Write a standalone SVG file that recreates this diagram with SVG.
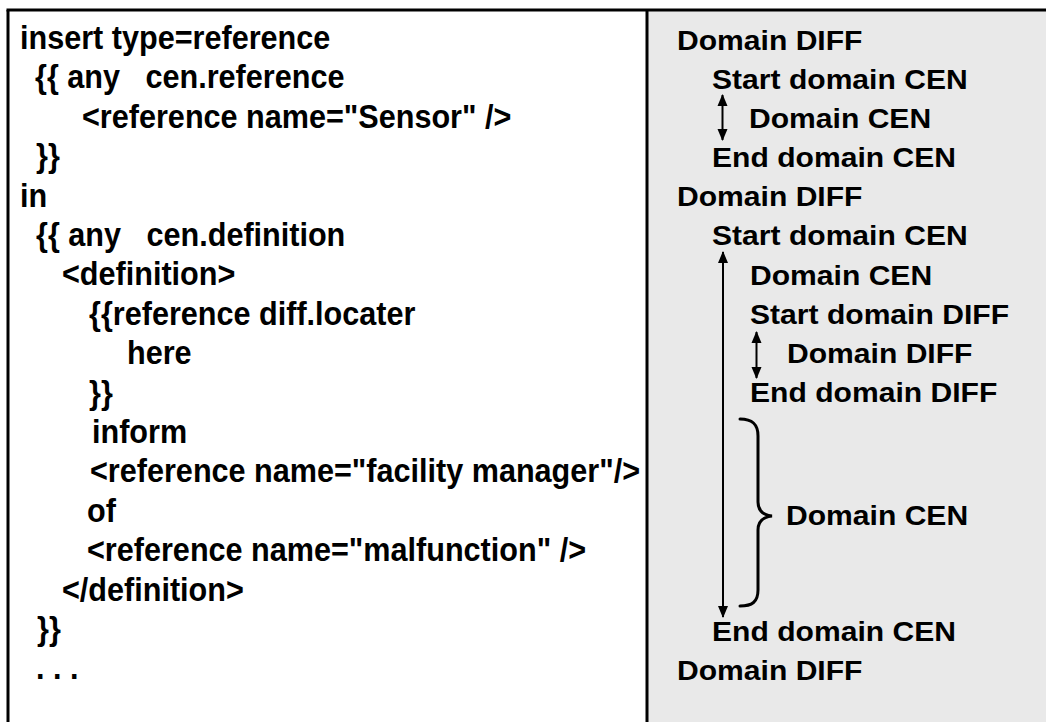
<svg xmlns="http://www.w3.org/2000/svg" width="1046" height="722" viewBox="0 0 1046 722">
  <style>
    .code { font-family: "Liberation Sans", Arial, sans-serif; font-weight: bold; font-size: 34px; fill: #000; white-space: pre; }
    .dom { font-family: "Liberation Sans", Arial, sans-serif; font-weight: bold; font-size: 28px; fill: #000; white-space: pre; }
    .frame { stroke: #000; stroke-width: 3; fill: none; }
    .conn { stroke: #000; stroke-width: 2; fill: none; }
    .brace { stroke: #000; stroke-width: 3; fill: none; stroke-linecap: round; }
  </style>
  <defs>
    <marker id="head" markerUnits="userSpaceOnUse" markerWidth="12" markerHeight="16" refX="11" refY="6" viewBox="0 0 12 12" orient="auto-start-reverse">
      <path d="M0,1 L12,6 L0,11 z" fill="#000"/>
    </marker>
  </defs>

  <!-- background and panels -->
  <rect x="0" y="0" width="1046" height="722" fill="#fff"/>
  <rect id="domain-panel" x="647" y="10" width="399" height="712" fill="#e9e9e9"/>
  <g id="frame">
    <line class="frame" x1="6.5" y1="10" x2="1046" y2="10"/>
    <line class="frame" x1="8" y1="10" x2="8" y2="722"/>
    <line class="frame" x1="647" y1="10" x2="647" y2="722"/>
  </g>

  <!-- code listing (condensed bold) -->
  <g id="code-listing">
    <text class="code" transform="translate(20,49) scale(0.9,1)">insert type=reference</text>
    <text class="code" transform="translate(35,88.4) scale(0.9,1)">{{ any   cen.reference</text>
    <text class="code" transform="translate(82,127.8) scale(0.9,1)">&lt;reference name="Sensor" /&gt;</text>
    <text class="code" transform="translate(36,167.2) scale(0.9,1)">}}</text>
    <text class="code" transform="translate(20,206.6) scale(0.9,1)">in</text>
    <text class="code" transform="translate(36,246) scale(0.9,1)">{{ any   cen.definition</text>
    <text class="code" transform="translate(62,285.4) scale(0.9,1)">&lt;definition&gt;</text>
    <text class="code" transform="translate(89,324.8) scale(0.9,1)">{{reference diff.locater</text>
    <text class="code" transform="translate(127,364.2) scale(0.9,1)">here</text>
    <text class="code" transform="translate(89,403.6) scale(0.9,1)">}}</text>
    <text class="code" transform="translate(92,443) scale(0.9,1)">inform</text>
    <text class="code" transform="translate(90,482.4) scale(0.9,1)">&lt;reference name="facility manager"/&gt;</text>
    <text class="code" transform="translate(87,521.8) scale(0.9,1)">of</text>
    <text class="code" transform="translate(87,561.2) scale(0.9,1)">&lt;reference name="malfunction" /&gt;</text>
    <text class="code" transform="translate(62,600.6) scale(0.9,1)">&lt;/definition&gt;</text>
    <text class="code" transform="translate(37,640) scale(0.9,1)">}}</text>
    <text class="code" transform="translate(36,679.4) scale(0.9,1)">. . .</text>
  </g>

  <!-- domain labels -->
  <g id="domain-labels">
    <text id="d1" class="dom" transform="translate(677,50) scale(1.075,1)">Domain DIFF</text>
    <text id="d2" class="dom" transform="translate(712,89) scale(1.075,1)">Start domain CEN</text>
    <text id="d3" class="dom" transform="translate(749,128) scale(1.075,1)">Domain CEN</text>
    <text id="d4" class="dom" transform="translate(712,167) scale(1.075,1)">End domain CEN</text>
    <text id="d5" class="dom" transform="translate(677,206) scale(1.075,1)">Domain DIFF</text>
    <text id="d6" class="dom" transform="translate(712,245) scale(1.075,1)">Start domain CEN</text>
    <text id="d7" class="dom" transform="translate(750,284.5) scale(1.075,1)">Domain CEN</text>
    <text id="d8" class="dom" transform="translate(750,324) scale(1.075,1)">Start domain DIFF</text>
    <text id="d9" class="dom" transform="translate(787,363) scale(1.075,1)">Domain DIFF</text>
    <text id="d10" class="dom" transform="translate(750,402) scale(1.075,1)">End domain DIFF</text>
    <text id="d11" class="dom" transform="translate(786,525) scale(1.075,1)">Domain CEN</text>
    <text id="d12" class="dom" transform="translate(712,641) scale(1.075,1)">End domain CEN</text>
    <text id="d13" class="dom" transform="translate(677,680) scale(1.075,1)">Domain DIFF</text>
  </g>

  <!-- span arrows and brace -->
  <g id="connectors">
    <line class="conn" x1="722.5" y1="95" x2="722.5" y2="140" marker-start="url(#head)" marker-end="url(#head)"/>
    <line class="conn" x1="756.5" y1="332" x2="756.5" y2="378" marker-start="url(#head)" marker-end="url(#head)"/>
    <line class="conn" x1="723" y1="252" x2="723" y2="617" marker-start="url(#head)" marker-end="url(#head)"/>
    <path class="brace" d="M740,419 C752,419 758,424 758,436 L758,502 C758,510 763,515 772,516 C763,517 758,522 758,530 L758,590 C758,602 752,606 740,606"/>
  </g>
</svg>
